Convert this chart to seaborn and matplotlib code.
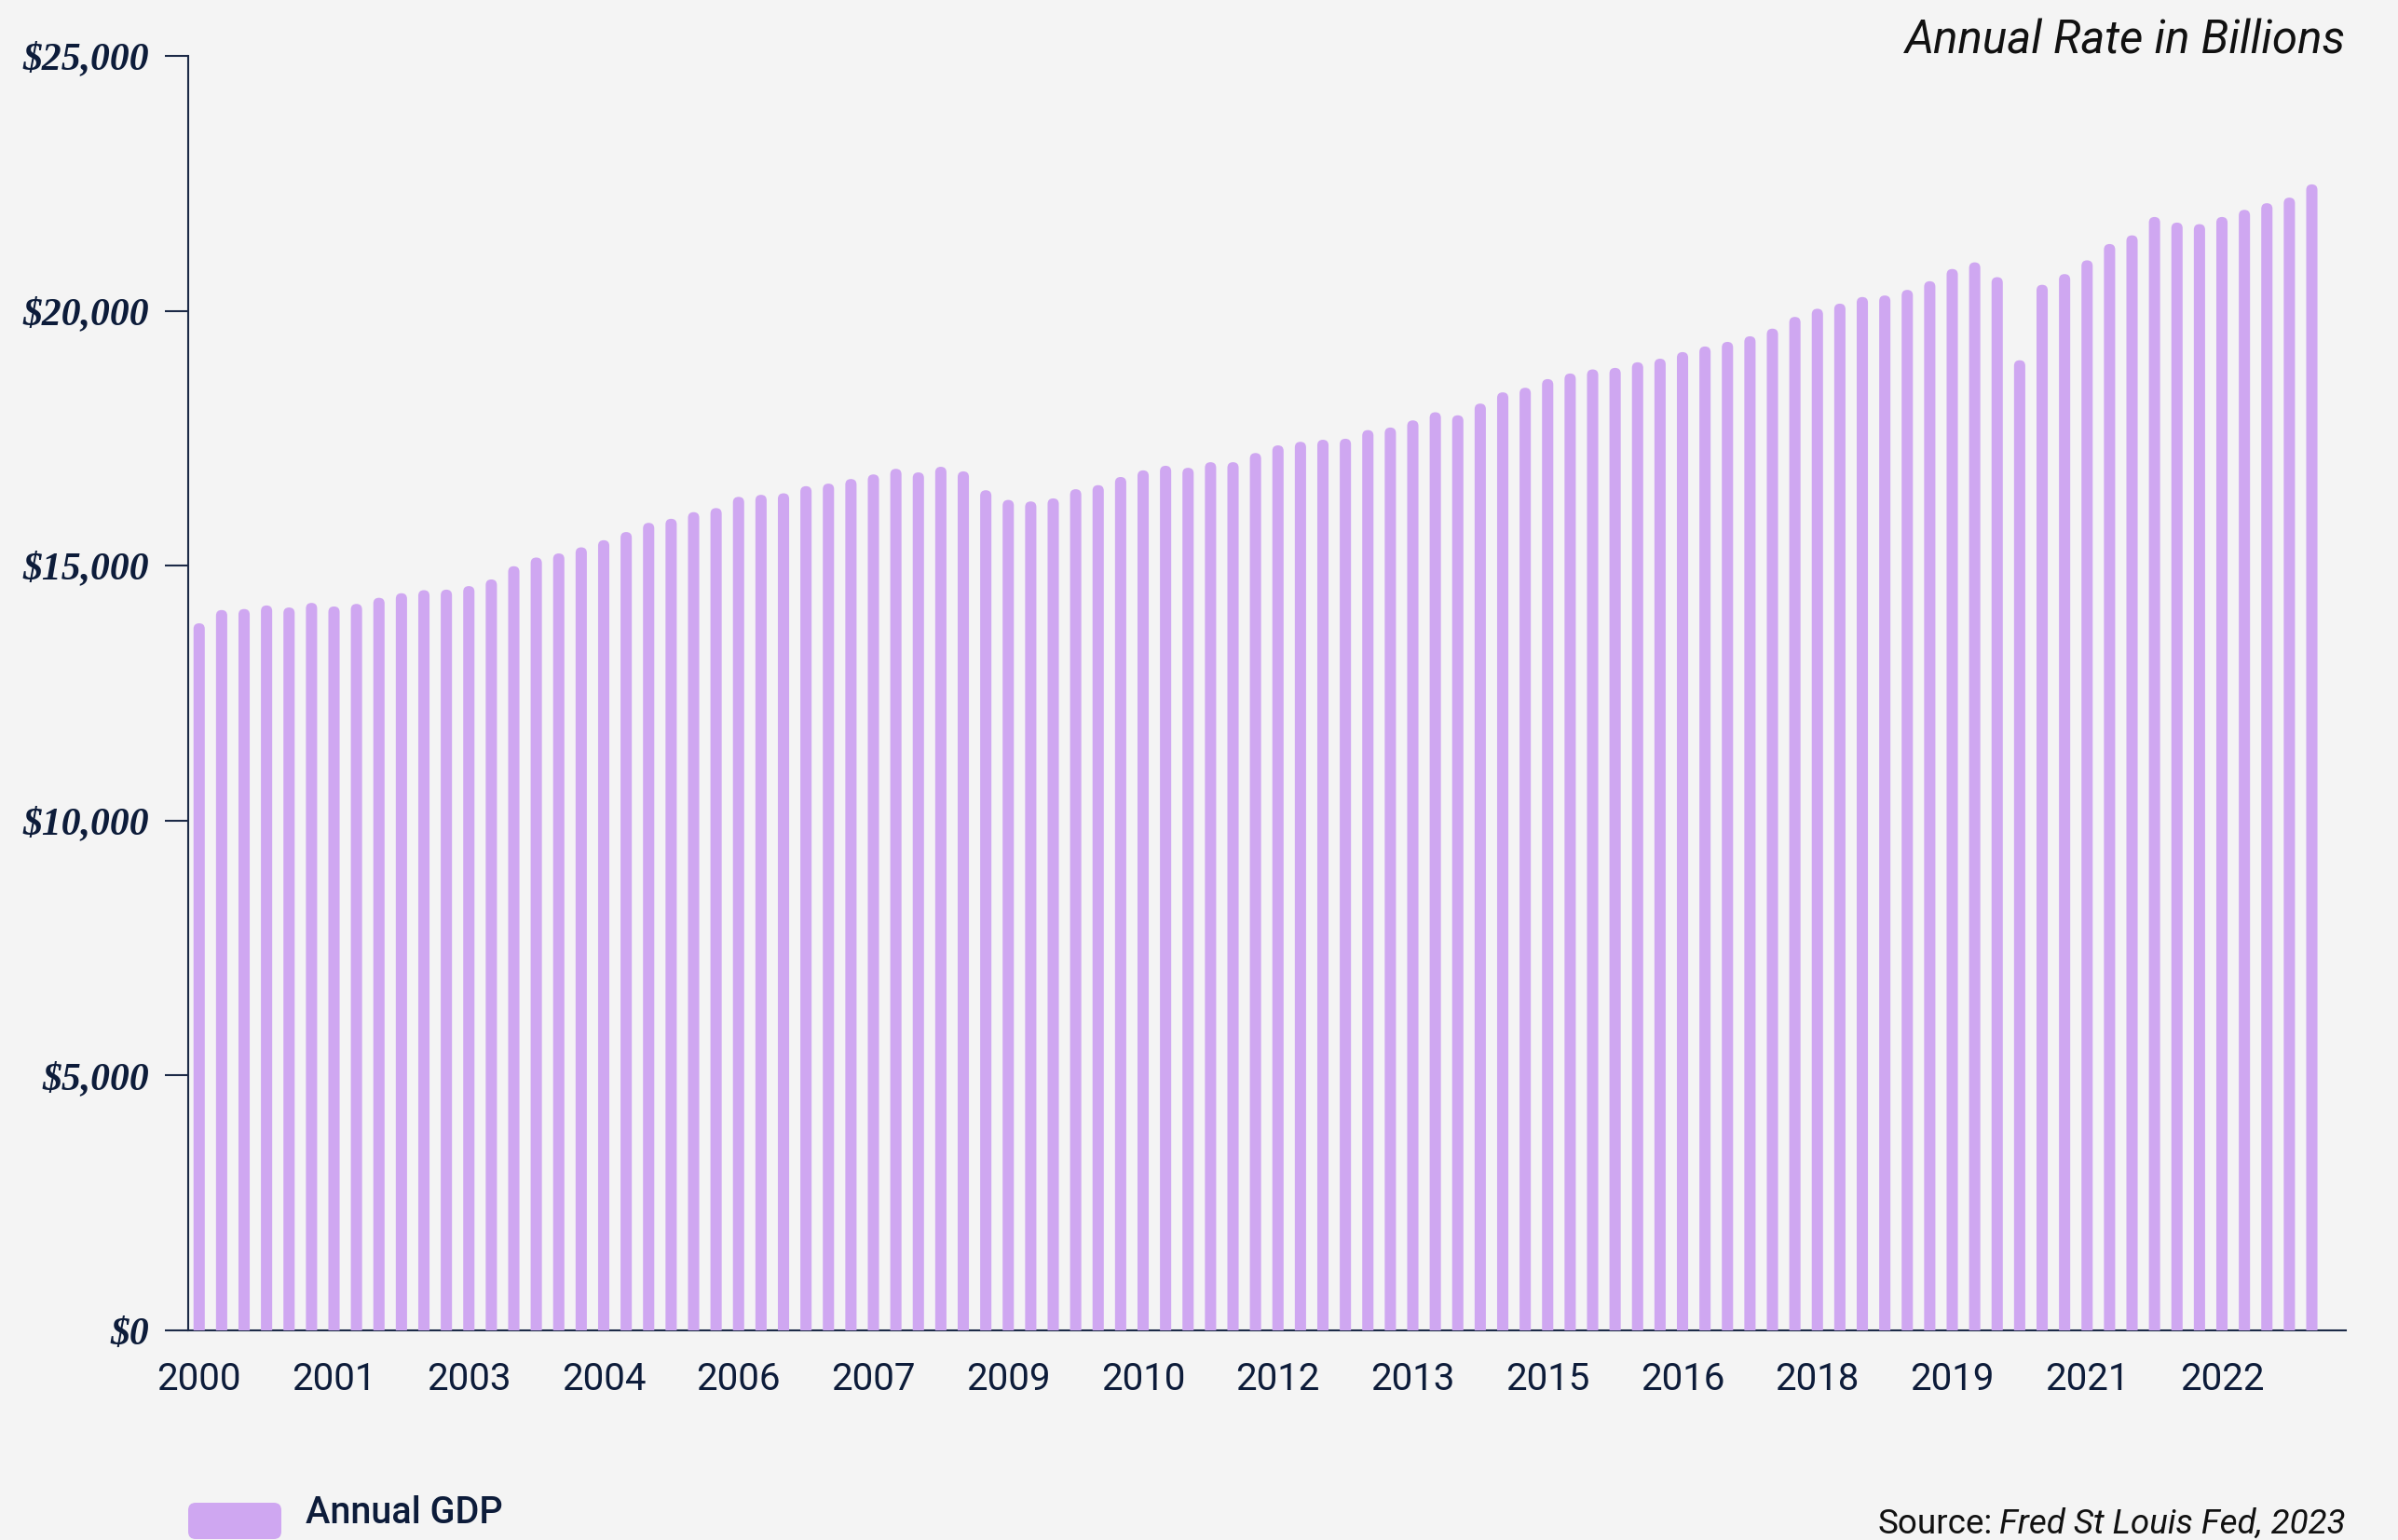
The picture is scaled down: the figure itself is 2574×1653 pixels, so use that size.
import numpy as np
import pandas as pd
import matplotlib
matplotlib.use("Agg")
import matplotlib.pyplot as plt
import seaborn as sns
from matplotlib.patches import FancyBboxPatch
from matplotlib.transforms import IdentityTransform

# ---------------- data ----------------
quarters = [f"{y} Q{q}" for y in range(2000, 2024) for q in range(1, 5)][:95]
gdp = [13870, 14130, 14150, 14220, 14180, 14270, 14200, 14250, 14370, 14460,
       14520, 14530, 14600, 14730, 14990, 15160, 15240, 15360, 15500, 15660,
       15840, 15920, 16050, 16130, 16350, 16390, 16420, 16560, 16610, 16700,
       16790, 16900, 16830, 16940, 16850, 16480, 16290, 16260, 16320, 16500,
       16580, 16740, 16870, 16960, 16920, 17030, 17030, 17210, 17360, 17430,
       17470, 17490, 17660, 17710, 17850, 18010, 17950, 18180, 18400, 18490,
       18660, 18770, 18850, 18880, 18990, 19060, 19190, 19300, 19390, 19500,
       19650, 19880, 20040, 20140, 20270, 20300, 20410, 20580, 20820, 20950,
       20660, 19030, 20510, 20720, 20990, 21310, 21480, 21840, 21730, 21700,
       21840, 21980, 22110, 22220, 22480]
y_ticks = [0, 5000, 10000, 15000, 20000, 25000]
y_tick_labels = ["$0", "$5,000", "$10,000", "$15,000", "$20,000", "$25,000"]
x_tick_every = 6
series_name = "Annual GDP"
title_text = "Annual Rate in Billions"
source_label = "Source:"
source_text = "Fred St Louis Fed, 2023"

# ---------------- style ----------------
BG = "#f4f4f4"
BAR = "#cfa7f1"
NAVY = "#0d1c3a"
AXIS = "#1c2a47"

sns.set_style("white", {"axes.facecolor": BG, "figure.facecolor": BG})
plt.rcParams["font.family"] = ["Roboto", "DejaVu Sans"]

W, H, DPI = 2574, 1653, 100
fig = plt.figure(figsize=(W / DPI, H / DPI), dpi=DPI)
fig.patch.set_facecolor(BG)
ax_left, ax_bottom = 201.7 / W, 225 / H
ax_w, ax_h = (2517.7 - 201.7) / W, (1428 - 60) / H
ax = fig.add_axes([ax_left, ax_bottom, ax_w, ax_h])
ax.set_facecolor(BG)

df = pd.DataFrame({"quarter": quarters, "gdp": gdp})
sns.barplot(data=df, x="quarter", y="gdp", color=BAR, saturation=1,
            width=0.5, ax=ax, errorbar=None)

n_slots = len(quarters) + 1
ax.set_xlim(-0.5, n_slots - 0.5)
ax.set_ylim(0, 25000)

# rounded bar tops: rebuild each seaborn bar as a rounded box
px_per_x = ax_w * W / n_slots
px_per_y = ax_h * H / 25000
radius_px = 6.0
r_x = radius_px / px_per_x
aspect = px_per_x / px_per_y
ext = 400
for p in list(ax.patches):
    x0, w, h = p.get_x(), p.get_width(), p.get_height()
    p.remove()
    fb = FancyBboxPatch((x0, -ext), w, h + ext,
                        boxstyle=f"round,pad=0,rounding_size={r_x}",
                        mutation_aspect=aspect, facecolor=BAR,
                        edgecolor="none", zorder=3, clip_on=True)
    ax.add_patch(fb)

# spines
sns.despine(ax=ax, top=True, right=True)
for s in ["left", "bottom"]:
    ax.spines[s].set_color(AXIS)
    ax.spines[s].set_linewidth(1.5)
    ax.spines[s].set_zorder(2)

# y axis
ax.set_yticks(y_ticks)
ax.set_yticklabels(y_tick_labels)
ax.tick_params(axis="y", direction="out", length=18, width=1.5, color=AXIS,
               pad=12, left=True)
for lbl in ax.get_yticklabels():
    lbl.set_fontfamily(["Liberation Serif", "DejaVu Serif"])
    lbl.set_fontstyle("italic")
    lbl.set_fontweight("bold")
    lbl.set_fontsize(30)
    lbl.set_color(NAVY)

# x axis
xt = list(range(0, len(quarters), x_tick_every))
ax.set_xticks(xt)
ax.set_xticklabels([quarters[i].split()[0] for i in xt])
ax.tick_params(axis="x", length=0, pad=24, labelsize=29, labelcolor=NAVY)
ax.set_xlabel("")
ax.set_ylabel("")
ax.grid(False)

# title
fig.text(2518 / W, 1 - 57 / H, title_text, ha="right", va="baseline",
         fontsize=35.5, fontstyle="italic", color="#111111",
         family=["Roboto", "DejaVu Sans"])

# legend
leg_patch = FancyBboxPatch((202, 1), 100, 39,
                           boxstyle="round,pad=0,rounding_size=8",
                           transform=IdentityTransform(), facecolor=BAR,
                           edgecolor="none")
fig.patches.append(leg_patch)
fig.text(328 / W, 18 / H, series_name, ha="left", va="baseline",
         fontsize=28.5, fontweight="medium", color=NAVY,
         family=["Roboto", "DejaVu Sans"])

# source
t_it = fig.text(2518 / W, 7 / H, source_text, ha="right", va="baseline",
                fontsize=26.5, fontstyle="italic", color="#111111",
                family=["Roboto", "DejaVu Sans"])
fig.canvas.draw()
bb = t_it.get_window_extent()
fig.text((bb.x0 - 8) / W, 7 / H, source_label, ha="right", va="baseline",
         fontsize=26.5, color="#111111", family=["Roboto", "DejaVu Sans"])

fig.savefig("out.png", dpi=DPI, facecolor=BG)
